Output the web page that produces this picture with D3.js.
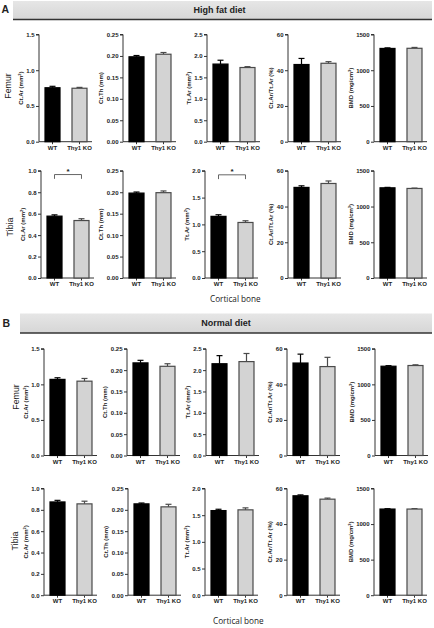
<!DOCTYPE html>
<html><head><meta charset="utf-8">
<script src="https://cdn.jsdelivr.net/npm/d3@7"></script>
<style>
html,body{margin:0;padding:0;background:#fff;}
svg{display:block;}
text{font-family:"Liberation Sans",Arial,sans-serif;fill:#222;}
</style></head>
<body>
<svg id="chart" width="434" height="628"></svg>
<script>
// ---------------- DATA ----------------
const groups = ["WT", "Thy1 KO"];
const measures = ["Ct.Ar", "Ct.Th", "Tt.Ar", "Ct.Ar/Tt.Ar", "BMD"];
const diets = ["High fat diet", "Normal diet"];
const bones = ["Femur", "Tibia"];

// High fat diet – femur
const hfFemurWT    = [0.755, 0.198, 1.81, 43.2, 1305];
const hfFemurWTerr = [0.020, 0.003, 0.09, 3.4, 8];
const hfFemurKO    = [0.748, 0.204, 1.73, 43.9, 1307];
const hfFemurKOerr = [0.012, 0.004, 0.02, 0.9, 12];
// High fat diet – tibia
const hfTibiaWT    = [0.577, 0.198, 1.15, 50.7, 1262];
const hfTibiaWTerr = [0.012, 0.0025, 0.03, 0.9, 6];
const hfTibiaKO    = [0.536, 0.199, 1.036, 52.9, 1253];
const hfTibiaKOerr = [0.017, 0.004, 0.032, 1.4, 5];
// Normal diet – femur
const ndFemurWT    = [1.07, 0.217, 2.15, 52.0, 1255];
const ndFemurWTerr = [0.023, 0.006, 0.19, 5.0, 8];
const ndFemurKO    = [1.045, 0.209, 2.20, 50.0, 1265];
const ndFemurKOerr = [0.038, 0.006, 0.19, 5.2, 10];
// Normal diet – tibia
const ndTibiaWT    = [0.874, 0.214, 1.586, 55.9, 1211];
const ndTibiaWTerr = [0.015, 0.002, 0.025, 0.5, 5];
const ndTibiaKO    = [0.856, 0.207, 1.60, 54.0, 1211];
const ndTibiaKOerr = [0.025, 0.006, 0.037, 0.6, 6];

// axis maxima and tick steps
const femurMax = [1.5, 0.25, 2.5, 60, 1500];
const tibiaMax = [1.0, 0.25, 2.0, 60, 1500];
const femurStep = [0.5, 0.05, 0.5, 20, 500];
const tibiaStep = [0.2, 0.05, 0.5, 20, 500];
const tickFormats = [".1f", ".2f", ".1f", "d", "d"];

// significance (row index, panel index, bracket level in data units)
const sigRows   = [1, 1];
const sigPanels = [0, 2];
const sigLevels = [0.965, 1.925];

// ---------------- LAYOUT ----------------
const rowsData = [
  {wt:hfFemurWT, wte:hfFemurWTerr, ko:hfFemurKO, koe:hfFemurKOerr, max:femurMax, step:femurStep, bone:bones[0]},
  {wt:hfTibiaWT, wte:hfTibiaWTerr, ko:hfTibiaKO, koe:hfTibiaKOerr, max:tibiaMax, step:tibiaStep, bone:bones[1]},
  {wt:ndFemurWT, wte:ndFemurWTerr, ko:ndFemurKO, koe:ndFemurKOerr, max:femurMax, step:femurStep, bone:bones[0]},
  {wt:ndTibiaWT, wte:ndTibiaWTerr, ko:ndTibiaKO, koe:ndTibiaKOerr, max:tibiaMax, step:tibiaStep, bone:bones[1]},
];
const rowLayout = [
  {top:34.5, bottom:141.7, axes:[39,123,207,288,374], lx:9,  ly:86},
  {top:170.8, bottom:278,  axes:[41,123,205,288,374], lx:10.5, ly:227},
  {top:348.8, bottom:455.5,axes:[44,127,206,287,375], lx:17, ly:397},
  {top:488.5, bottom:595.2,axes:[44,128,205,287,374], lx:15.5, ly:541},
];
const titleParts = [
  [["Ct.Ar (mm",""],["2","sup"],[")",""]],
  [["Ct.Th (mm)",""]],
  [["Tt.Ar (mm",""],["2","sup"],[")",""]],
  [["Ct.Ar/Tt.Ar (%)",""]],
  [["BMD (mg/cm",""],["3","sup"],[")",""]],
];

const svg = d3.select("#chart");

// headers
const headers = [
  {x:13, y:1, w:419, h:18.5, label:"A", lx:1.5, ly:10, text:diets[0], cy:10.5, cx:219.5, foot:300, footx:210},
  {x:20, y:313.5, w:412, h:19.5, label:"B", lx:2.5, ly:324, text:diets[1], cy:324, cx:226, foot:621.5, footx:213},
];
const grad = svg.append("defs").append("linearGradient").attr("id","hg").attr("x1",0).attr("x2",0).attr("y1",0).attr("y2",1);
grad.append("stop").attr("offset","0%").attr("stop-color","#e6e6e6");
grad.append("stop").attr("offset","100%").attr("stop-color","#d6d6d6");
headers.forEach(h => {
  svg.append("rect").attr("x",h.x).attr("y",h.y).attr("width",h.w).attr("height",h.h).attr("fill","url(#hg)");
  svg.append("line").attr("x1",h.x).attr("x2",h.x+h.w).attr("y1",h.y+h.h).attr("y2",h.y+h.h)
    .attr("stroke","#333").attr("stroke-width",1.6);
  svg.append("text").attr("x",h.lx).attr("y",h.ly).attr("dominant-baseline","middle")
    .attr("font-size",10.5).attr("font-weight","bold").attr("fill","#111").text(h.label);
  svg.append("text").attr("x",h.cx).attr("y",h.cy).attr("dominant-baseline","middle").attr("text-anchor","middle")
    .attr("font-size",9).attr("font-weight","bold").attr("fill","#111").text(h.text);
  svg.append("text").attr("x",h.footx).attr("y",h.foot).attr("dominant-baseline","middle")
    .style("font-family","'Open Sans',sans-serif").attr("font-size",8.2).attr("fill","#333").text("Cortical bone");
});

rowsData.forEach((rd, ri) => {
  const L = rowLayout[ri];
  // bone label
  svg.append("text").attr("transform",`translate(${L.lx},${L.ly}) rotate(-90)`)
    .attr("text-anchor","middle").attr("dominant-baseline","middle")
    .attr("font-size",8.8).attr("fill","#111").text(rd.bone);

  measures.forEach((m, pi) => {
    const ax = L.axes[pi];
    const y = d3.scaleLinear().domain([0, rd.max[pi]]).range([L.bottom, L.top]);
    const x = d3.scaleBand().domain(groups).range([ax+6, ax+48]).paddingInner(0.444).paddingOuter(0);
    const g = svg.append("g");
    const ticks = d3.range(0, rd.max[pi] + rd.step[pi]*0.5, rd.step[pi]);
    const yAxis = d3.axisLeft(y).tickValues(ticks).tickFormat(d3.format(tickFormats[pi])).tickSize(3).tickPadding(1.5);
    const ya = g.append("g").attr("transform",`translate(${ax},0)`).call(yAxis);
    ya.select(".domain").attr("stroke","#333").attr("stroke-width",1).attr("d",`M-3,${L.top}H0V${L.bottom}`);
    ya.selectAll(".tick line").attr("stroke","#333");
    ya.selectAll(".tick text").attr("font-size",6).attr("font-weight","bold").attr("fill","#222")
      .style("font-family","'Liberation Sans',Arial,sans-serif");
    let maxw = 0;
    ya.selectAll(".tick text").each(function(){ maxw = Math.max(maxw, this.getComputedTextLength()); });

    // x axis
    const xa = g.append("g").attr("transform",`translate(0,${L.bottom})`)
      .call(d3.axisBottom(x).tickSize(2.5).tickPadding(1.5));
    xa.select(".domain").attr("stroke","#333").attr("stroke-width",1).attr("d",`M${ax},0H${ax+53}`);
    xa.selectAll(".tick line").attr("stroke","#333");
    xa.selectAll(".tick text").attr("font-size",6).attr("font-weight","bold").attr("fill","#222")
      .style("font-family","'Liberation Sans',Arial,sans-serif");

    // y title
    const t = g.append("text").attr("transform",`translate(${ax - maxw - 8},${(L.top+L.bottom)/2}) rotate(-90)`)
      .attr("text-anchor","middle").attr("font-size",6).attr("font-weight","bold").attr("fill","#222");
    titleParts[pi].forEach(p => {
      const ts = t.append("tspan").text(p[0]);
      if (p[1]==="sup") ts.attr("font-size",4).attr("baseline-shift","super");
    });

    // bars
    const vals = [{g:groups[0], v:rd.wt[pi], e:rd.wte[pi], fill:"#000", stroke:"#000"},
                  {g:groups[1], v:rd.ko[pi], e:rd.koe[pi], fill:"#d3d3d3", stroke:"#4a4a4a"}];
    vals.forEach(d => {
      const cx = x(d.g) + x.bandwidth()/2;
      g.append("line").attr("x1",cx).attr("x2",cx).attr("y1",y(d.v)).attr("y2",y(d.v+d.e))
        .attr("stroke",d.stroke).attr("stroke-width",1.2);
      g.append("line").attr("x1",cx-3).attr("x2",cx+3).attr("y1",y(d.v+d.e)).attr("y2",y(d.v+d.e))
        .attr("stroke",d.stroke).attr("stroke-width",1.2);
      g.append("rect").attr("x",x(d.g)).attr("width",x.bandwidth()).attr("y",y(d.v))
        .attr("height",L.bottom - y(d.v)).attr("fill",d.fill).attr("stroke",d.stroke).attr("stroke-width",1.2);
    });

    // significance
    sigRows.forEach((sr, si) => {
      if (sr === ri && sigPanels[si] === pi) {
        const x1 = x(groups[0]) + x.bandwidth()/2, x2 = x(groups[1]) + x.bandwidth()/2;
        const yy = y(sigLevels[si]);
        g.append("path").attr("d",`M${x1},${yy+4.3}V${yy}H${x2}V${yy+4.3}`)
          .attr("fill","none").attr("stroke","#555").attr("stroke-width",0.9);
        g.append("text").attr("x",(x1+x2)/2).attr("y",yy-1).attr("text-anchor","middle")
          .attr("font-size",8).attr("font-weight","bold").attr("fill","#333").text("*");
      }
    });
  });
});
</script>
</body></html>
